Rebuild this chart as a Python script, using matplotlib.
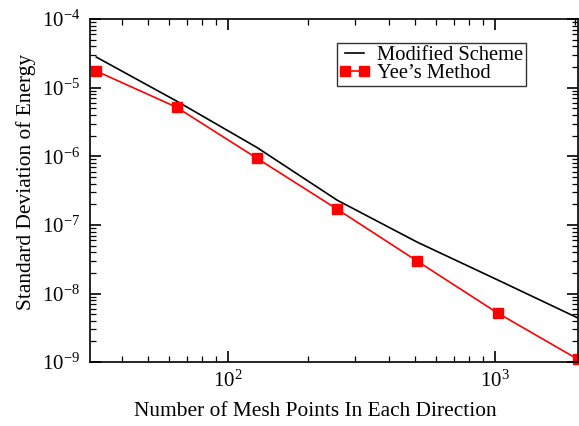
import numpy as np
import matplotlib
matplotlib.use("Agg")
import matplotlib.pyplot as plt
from matplotlib.ticker import LogLocator, NullFormatter

plt.rcParams["font.family"] = ["Liberation Serif", "DejaVu Serif"]
plt.rcParams["mathtext.fontset"] = "custom"
plt.rcParams["mathtext.rm"] = "Liberation Serif"

mesh_points = [32, 64, 128, 256, 512, 1024, 2048]
modified_scheme = [2.8e-5, 6.4e-6, 1.35e-6, 2.3e-7, 5.6e-8, 1.58e-8, 4.4e-9]
yee_method = [1.75e-5, 5.2e-6, 9.4e-7, 1.7e-7, 2.96e-8, 5.2e-9, 1.1e-9]
x_major = [1e2, 1e3]
y_major = [1e-9, 1e-8, 1e-7, 1e-6, 1e-5, 1e-4]

fig = plt.figure(figsize=(5.79, 4.26), dpi=100)
ax = fig.add_axes([0.1554, 0.150, 0.8426, 0.805])

ax.plot(mesh_points, modified_scheme, color="black", lw=1.2, label="Modified Scheme")
ax.plot(mesh_points, yee_method, color="red", lw=1.2, marker="s", ms=7.5,
        label="Yee\u2019s Method", clip_on=False)

ax.set_xscale("log")
ax.set_yscale("log")
ax.set_xlim(30.3, 2048)
ax.set_ylim(1e-9, 1e-4)
ax.set_xticks(x_major)
ax.set_yticks(y_major)

ax.xaxis.set_minor_locator(LogLocator(base=10, subs=np.arange(2, 10)))
ax.yaxis.set_minor_locator(LogLocator(base=10, subs=np.arange(2, 10)))
ax.xaxis.set_minor_formatter(NullFormatter())
ax.yaxis.set_minor_formatter(NullFormatter())
ax.tick_params(which="both", direction="in", top=True, right=True, labelsize=15)
ax.tick_params(which="major", length=8, width=1.2)
ax.tick_params(which="minor", length=4, width=0.9)
ax.tick_params(axis="y", which="major", pad=7)
ax.tick_params(axis="x", which="major", pad=6)
for s in ax.spines.values():
    s.set_linewidth(1.2)

ax.set_xlabel("Number of Mesh Points In Each Direction", fontsize=15.4, va="center")
ax.set_ylabel("Standard Deviation of Energy", fontsize=15.4, va="center")
ax.xaxis.set_label_coords(0.461, -0.143)
ax.yaxis.set_label_coords(-0.132, 0.525)

leg = ax.legend(loc="upper right", bbox_to_anchor=(0.893, 0.93), fontsize=14.8,
                numpoints=2, handlelength=1.5, handletextpad=0.35,
                borderpad=0.12, labelspacing=-0.05, frameon=True, fancybox=False,
                edgecolor="black", borderaxespad=0)
leg.get_frame().set_linewidth(1.0)
leg.legend_handles[1].set_markersize(6.5)

fig.savefig("out.png", dpi=100)
